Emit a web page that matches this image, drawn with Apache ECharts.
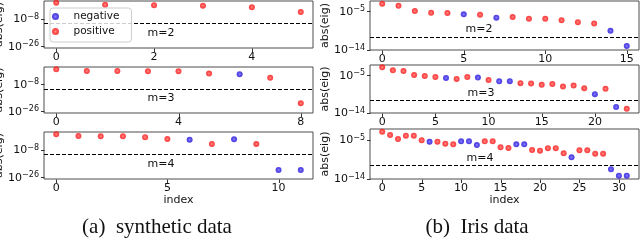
<!DOCTYPE html>
<html><head><meta charset="utf-8">
<script src="https://cdn.jsdelivr.net/npm/echarts@6/dist/echarts.min.js"></script>
<style>html,body{margin:0;padding:0;background:#fff}#c{width:640px;height:240px}</style>
</head><body><div id="c"></div>
<script>
// log10(abs(eig)); sign '+' = positive, '-' = negative
const synM2 = [2.42, 1.13, 0.71, 0.49, -0.58, -3.6];
const synM2Sign = ['+','+','+','+','+','+'];
const synM3 = [2.0, 0.89, 0.89, 0.67, 0.67, -0.86, -1.3, -3.7, -20.6];
const synM3Sign = ['+','+','+','+','+','+','-','+','+'];
const synM4 = [1.99, 0.9, 0.69, 0.69, 0.04, -1.05, -1.48, -4.29, -1.26, -4.29, -21.2, -21.2];
const synM4Sign = ['+','+','+','+','+','+','-','+','-','+','-','-'];
const irisM2 = [-3.21,-3.68,-4.92,-5.31,-5.39,-5.70,-5.77,-6.47,-6.32,-6.71,-6.71,-7.10,-7.56,-7.87,-9.58,-13.16];
const irisM2Sign = ['+','+','+','+','+','-','+','-','+','+','+','+','+','+','-','-'];
const irisM3 = [-3.11,-3.83,-3.99,-4.94,-5.18,-5.42,-5.66,-5.9,-5.42,-5.58,-6.14,-6.46,-6.46,-6.94,-7.02,-7.33,-7.1,-7.73,-7.49,-8.13,-9.57,-8.29,-12.68,-13.08];
const irisM3Sign = ['+','+','+','+','+','+','-','+','+','-','+','-','-','+','+','+','+','+','+','+','-','+','-','+'];
const irisM4 = [-3.17,-3.94,-4.86,-4.09,-4.09,-5.17,-5.48,-5.48,-5.94,-6.09,-5.4,-5.4,-6.25,-5.4,-5.4,-6.78,-6.94,-6.09,-6.09,-7.4,-7.55,-7.01,-7.01,-8.17,-9.09,-7.48,-7.48,-8.25,-8.25,-11.86,-13.33,-13.33];
const irisM4Sign = ['+','+','+','+','+','+','-','+','+','+','-','-','-','+','+','+','+','-','-','+','+','+','+','+','-','+','+','+','+','-','-','-'];
const threshold = -11;
const synYTicks = [-26, -8];
const irisYTicks = [-14, -5];
const synYRange = [-27.05, 3.5];
const irisYRange = [-14.1, -2.55];
const xTicks = [[0,2,4],[0,4,8],[0,5,10],[0,5,10,15],[0,5,10,15,20],[0,5,10,15,20,25,30]];
const panelLabels = ['m=2','m=3','m=4','m=2','m=3','m=4'];
const captions = ['(a)\u2002synthetic data', '(b)\u2002Iris data'];

const panels = [
  {vals: synM2, sign: synM2Sign, g:{left:44, top:1, width:269, height:47}, yr: synYRange, yt: synYTicks, lab:[161,33]},
  {vals: synM3, sign: synM3Sign, g:{left:44, top:67, width:269, height:46}, yr: synYRange, yt: synYTicks, lab:[161,98]},
  {vals: synM4, sign: synM4Sign, g:{left:44, top:132, width:269, height:47}, yr: synYRange, yt: synYTicks, lab:[161,164], bottom:true},
  {vals: irisM2, sign: irisM2Sign, g:{left:370, top:1, width:269, height:49}, yr: irisYRange, yt: irisYTicks, lab:[479,29]},
  {vals: irisM3, sign: irisM3Sign, g:{left:370, top:65, width:269, height:48}, yr: irisYRange, yt: irisYTicks, lab:[481,93]},
  {vals: irisM4, sign: irisM4Sign, g:{left:370, top:129, width:269, height:50}, yr: irisYRange, yt: irisYTicks, lab:[480,158], bottom:true}
];

const FONT = 'DejaVu Sans';
const red = {type:'radial', x:0.5, y:0.5, r:0.5, colorStops:[{offset:0,color:'#ff7070'},{offset:0.5,color:'#ff2424'},{offset:1,color:'#f41818'}]};
const blue = {type:'radial', x:0.5, y:0.5, r:0.5, colorStops:[{offset:0,color:'#7a68ff'},{offset:0.5,color:'#2f1fe4'},{offset:1,color:'#2414d6'}]};

function tickRenderer(dir) {
  return function (params, api) {
    const pt = api.coord([api.value(0), api.value(1)]);
    const x = Math.round(pt[0]) + 0.5, y = Math.round(pt[1]) + 0.5;
    const shape = dir === 'x' ? {x1:x, y1:y, x2:x, y2:y + 3.5} : {x1:x, y1:y, x2:x - 3.5, y2:y};
    return {type:'line', shape, style:{stroke:'#333', lineWidth:1}};
  };
}

const grid = [], xAxis = [], yAxis = [], series = [], graphic = [];
panels.forEach((p, i) => {
  const N = p.vals.length - 1;
  const xmin = -0.05 * N, xmax = 1.05 * N;
  grid.push(Object.assign({show:true, borderColor:'#4d4d4d', borderWidth:1, backgroundColor:'transparent',
    containLabel:false, outerBoundsMode:'none'}, p.g));
  xAxis.push({
    type:'value', gridIndex:i, min:xmin, max:xmax,
    axisLine:{show:false}, splitLine:{show:false}, axisTick:{show:false},
    axisLabel:{customValues:xTicks[i], margin:4, fontFamily:FONT, fontSize:11, color:'#111'},
    name: p.bottom ? 'index' : '', nameLocation:'middle', nameGap:15,
    nameTextStyle:{fontFamily:FONT, fontSize:11, color:'#111'}
  });
  yAxis.push({
    type:'value', gridIndex:i, min:p.yr[0], max:p.yr[1],
    axisLine:{show:false}, splitLine:{show:false}, axisTick:{show:false},
    axisLabel:{customValues:p.yt, margin:5, formatter: v => '{b|10}{s|\u2212' + Math.abs(Math.round(v)) + '}',
      rich:{b:{fontFamily:FONT, fontSize:11, color:'#111', verticalAlign:'bottom', lineHeight:12, padding:[3,0,0,0]},
            s:{fontFamily:FONT, fontSize:8, color:'#111', verticalAlign:'top', lineHeight:8}}},
    name:'abs(eig)', nameLocation:'middle', nameRotate:90, nameGap: i < 3 ? 27 : 33,
    nameTextStyle:{fontFamily:FONT, fontSize:11, color:'#111'}
  });
  const pos = [], neg = [];
  p.vals.forEach((v, k) => { (p.sign[k] === '-' ? neg : pos).push([k, v]); });
  series.push({type:'scatter', name:'negative', xAxisIndex:i, yAxisIndex:i, data:neg, symbol:'circle', symbolSize:6,
    itemStyle:{color:blue}, z:3});
  series.push({type:'scatter', name:'positive', xAxisIndex:i, yAxisIndex:i, data:pos, symbol:'circle', symbolSize:6,
    itemStyle:{color:red}, z:3,
    markLine:{silent:true, symbol:['none','none'], label:{show:false}, animation:false,
      lineStyle:{color:'#000', type:[4,2], width:1.2}, data:[{yAxis:threshold}]}});
  series.push({type:'custom', name:'xticks' + i, xAxisIndex:i, yAxisIndex:i, clip:false, silent:true,
    data: xTicks[i].map(v => [v, p.yr[0]]), renderItem: tickRenderer('x'), z:2});
  series.push({type:'custom', name:'yticks' + i, xAxisIndex:i, yAxisIndex:i, clip:false, silent:true,
    data: p.yt.map(v => [xmin, v]), renderItem: tickRenderer('y'), z:2});
  graphic.push({type:'text', x:p.lab[0], y:p.lab[1], style:{text:panelLabels[i], fontFamily:FONT, fontSize:11, fill:'#111', align:'center', verticalAlign:'middle'}});
});
graphic.push({type:'text', x:157, y:227, style:{text:captions[0], fontFamily:'Liberation Serif', fontSize:21, fill:'#111', align:'center', verticalAlign:'middle'}});
graphic.push({type:'text', x:477, y:227, style:{text:captions[1], fontFamily:'Liberation Serif', fontSize:21, fill:'#111', align:'center', verticalAlign:'middle'}});

const chart = echarts.init(document.getElementById('c'), null, {renderer:'canvas'});
chart.setOption({
  animation:false,
  grid, xAxis, yAxis, series, graphic,
  legend:{data:[{name:'negative', icon:'circle'},{name:'positive', icon:'circle'}], orient:'vertical',
    left:50, top:8, itemWidth:26, itemHeight:7, itemGap:4, padding:[3,12,5,2],
    backgroundColor:'rgba(255,255,255,0.8)', borderColor:'#cccccc', borderWidth:1, borderRadius:3,
    textStyle:{fontFamily:FONT, fontSize:10.5, color:'#111'}, selectedMode:false, z:10}
});
</script></body></html>
